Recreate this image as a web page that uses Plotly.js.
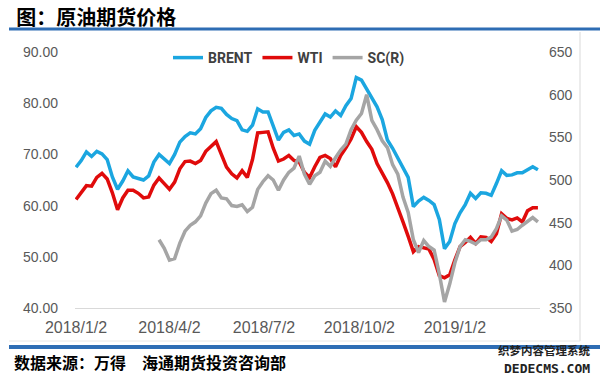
<!DOCTYPE html>
<html>
<head>
<meta charset="utf-8">
<script src="https://cdn.plot.ly/plotly-3.0.1.min.js"></script>
<style>html,body{margin:0;padding:0;background:#fff;}#chart{width:600px;height:378px;}</style>
</head>
<body>
<div id="chart"></div>
<script>
const dates = [
'2018-01-02','2018-01-07','2018-01-12','2018-01-17','2018-01-22','2018-01-27','2018-02-01','2018-02-06','2018-02-11','2018-02-16',
'2018-02-21','2018-02-26','2018-03-03','2018-03-08','2018-03-13','2018-03-18','2018-03-23','2018-03-28','2018-04-02','2018-04-07',
'2018-04-12','2018-04-17','2018-04-22','2018-04-27','2018-05-02','2018-05-07','2018-05-12','2018-05-17','2018-05-22','2018-05-27',
'2018-06-01','2018-06-06','2018-06-11','2018-06-16','2018-06-21','2018-06-26','2018-07-01','2018-07-06','2018-07-11','2018-07-16',
'2018-07-21','2018-07-26','2018-07-31','2018-08-05','2018-08-10','2018-08-15','2018-08-20','2018-08-25','2018-08-30','2018-09-04',
'2018-09-09','2018-09-14','2018-09-19','2018-09-24','2018-09-29','2018-10-04','2018-10-09','2018-10-14','2018-10-19','2018-10-24',
'2018-10-29','2018-11-03','2018-11-08','2018-11-13','2018-11-18','2018-11-23','2018-11-28','2018-12-03','2018-12-08','2018-12-13',
'2018-12-18','2018-12-23','2018-12-28','2019-01-02','2019-01-07','2019-01-12','2019-01-17','2019-01-22','2019-01-27','2019-02-01',
'2019-02-06','2019-02-11','2019-02-16','2019-02-21','2019-02-26','2019-03-03','2019-03-08','2019-03-13','2019-03-18','2019-03-23'
];

const brent = [
67.5,68.8,70.5,69.6,70.6,70.1,69.0,65.6,63.2,64.8,
66.8,65.6,65.3,65.0,65.8,68.5,70.0,69.0,68.2,70.0,
72.4,73.5,74.2,74.0,75.0,77.2,78.5,79.2,79.0,77.8,
77.0,76.6,74.8,74.5,75.7,78.9,78.3,78.3,75.5,72.8,
74.3,74.8,73.7,74.0,72.6,72.0,74.7,76.2,77.9,77.3,
78.5,77.6,79.5,80.9,85.0,84.5,82.7,80.8,79.3,76.8,
72.8,71.2,69.2,67.2,65.5,59.8,60.9,61.6,61.0,60.2,
57.3,51.6,53.0,56.5,58.6,60.2,62.4,61.4,62.5,62.4,
62.0,64.3,66.8,65.9,66.0,66.4,66.4,67.0,67.6,67.0
];

const wti = [
61.2,62.7,63.9,63.8,65.5,66.3,65.2,62.5,59.2,61.5,
63.0,63.0,62.4,61.5,61.7,64.0,65.4,64.3,63.2,64.6,
67.2,68.6,68.7,68.2,68.8,70.6,71.6,72.5,70.0,67.5,
66.2,65.4,66.8,65.5,69.0,74.2,74.3,74.4,71.2,68.7,
69.1,69.8,68.8,68.5,66.5,65.5,67.6,69.4,69.8,69.2,
67.6,69.8,71.3,73.0,75.4,74.3,72.5,71.0,68.2,66.5,
64.5,62.3,59.7,56.8,54.0,51.0,52.0,51.8,51.5,49.5,
46.3,45.9,46.5,49.4,52.0,52.8,53.8,52.6,53.9,53.8,
53.0,54.5,58.4,57.5,57.2,57.6,56.8,59.0,59.6,59.6
];

const scDates = dates.slice(16);
const sc = [
430,420,406,408,426,440,447,451,458,473,
484,488,479,478,470,469,471,463,468,489,
498,505,500,488,500,509,514,528,507,495,
505,509,522,516,526,535,542,559,570,578,
600,570,559,546,538,518,507,480,462,430,
415,429,422,418,390,357,378,403,422,430,
428,425,430,430,433,443,458,453,440,442,
447,451,456,451
];

const tickDates = ['2018-01-02','2018-04-02','2018-07-02','2018-10-02','2019-01-02'];
const tickLabels = ['2018/1/2','2018/4/2','2018/7/2','2018/10/2','2019/1/2'];

const names = ['BRENT','WTI','SC(R)'];
const colors = ['#1ba6e0','#e00b0b','#a5a5a5'];

const px = p => (p - 75) / 465;
const py = p => (308 - p) / 256;

const traces = [
  {x: dates, y: brent, name: names[0], type: 'scatter', mode: 'lines', line: {color: colors[0], width: 3.5}},
  {x: dates, y: wti, name: names[1], type: 'scatter', mode: 'lines', line: {color: colors[1], width: 3.5}},
  {x: scDates, y: sc, name: names[2], type: 'scatter', mode: 'lines', yaxis: 'y2', line: {color: colors[2], width: 3.5}}
];

const layout = {
  width: 600, height: 378,
  margin: {l: 75, r: 60, t: 52, b: 70},
  paper_bgcolor: '#ffffff', plot_bgcolor: '#ffffff',
  showlegend: true,
  title: {
    text: '<b>图：原油期货价格</b>',
    font: {family: 'Noto Sans CJK SC, sans-serif', size: 20, color: '#000000'},
    x: 0.027, xref: 'container', xanchor: 'left',
    y: 0.952, yref: 'container', yanchor: 'middle'
  },
  legend: {
    orientation: 'h', x: px(168), xanchor: 'left', y: py(58), yanchor: 'middle',
    font: {family: 'Liberation Sans Narrow, Roboto, sans-serif', size: 14, color: '#404040', weight: 'bold'},
    bgcolor: 'rgba(0,0,0,0)', itemwidth: 30, tracegroupgap: 0
  },
  xaxis: {
    type: 'date',
    range: ['2018-01-01', '2019-03-25'],
    showgrid: false, zeroline: false,
    showline: true, linecolor: '#d9d9d9', linewidth: 1,
    ticks: '',
    tickmode: 'array', tickvals: tickDates, ticktext: tickLabels,
    tickfont: {family: 'Liberation Sans, Arial, sans-serif', size: 16, color: '#595959'},
    ticklabelstandoff: 5
  },
  yaxis: {
    range: [40, 90], dtick: 10, tick0: 40, tickformat: '.2f',
    showgrid: false, zeroline: false, showline: false, ticks: '',
    tickfont: {family: 'Liberation Sans, Arial, sans-serif', size: 14, color: '#595959'},
    ticklabelstandoff: 16
  },
  yaxis2: {
    overlaying: 'y', side: 'right',
    range: [350, 650], dtick: 50, tick0: 350,
    showgrid: false, zeroline: false, showline: false, ticks: '',
    tickfont: {family: 'Liberation Sans, Arial, sans-serif', size: 14, color: '#595959'},
    ticklabelstandoff: 8
  },
  shapes: [
    {type: 'line', xref: 'paper', yref: 'paper', x0: px(9), x1: px(600), y0: py(29), y1: py(29), line: {color: '#2e6db4', width: 3}},
    {type: 'line', xref: 'paper', yref: 'paper', x0: px(9), x1: px(600), y0: py(347), y1: py(347), line: {color: '#2e6db4', width: 4}},
    {type: 'line', xref: 'paper', yref: 'paper', x0: px(580), x1: px(580), y0: py(32), y1: py(341), line: {color: '#d9d9d9', width: 1}},
    {type: 'line', xref: 'paper', yref: 'paper', x0: px(9), x1: px(580), y0: py(341), y1: py(341), line: {color: '#e6e6e6', width: 1}}
  ],
  annotations: [
    {text: '<b>数据来源：万得　海通期货投资咨询部</b>', xref: 'paper', yref: 'paper', x: px(12), y: py(362),
     xanchor: 'left', yanchor: 'middle', showarrow: false,
     font: {family: 'Noto Sans CJK SC, sans-serif', size: 16, color: '#000000'}},
    {text: '<b>织梦内容管理系统</b>', xref: 'paper', yref: 'paper', x: px(592), y: py(350),
     xanchor: 'right', yanchor: 'middle', showarrow: false,
     font: {family: 'Noto Sans CJK SC, sans-serif', size: 11.5, color: '#222222'}},
    {text: '<b>DEDECMS.COM</b>', xref: 'paper', yref: 'paper', x: px(592), y: py(368),
     xanchor: 'right', yanchor: 'middle', showarrow: false,
     font: {family: 'DejaVu Sans Mono, monospace', size: 13, color: '#222222'}}
  ]
};

Plotly.newPlot('chart', traces, layout, {displayModeBar: false, staticPlot: true});
</script>
</body>
</html>
